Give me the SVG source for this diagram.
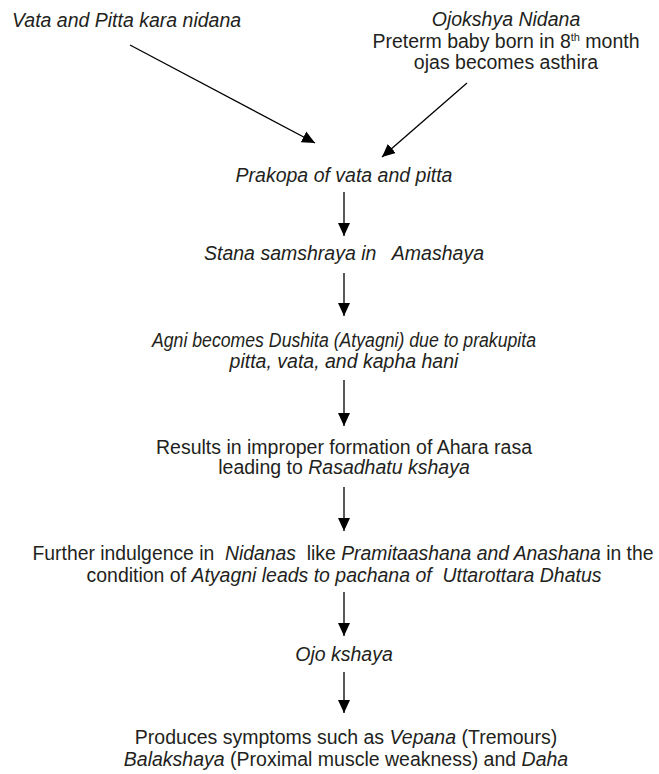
<svg xmlns="http://www.w3.org/2000/svg" width="659" height="774" viewBox="0 0 659 774">
<style>
text{font-family:"Liberation Sans",Arial,sans-serif;font-size:19.5px;fill:#231f20}
.c{text-anchor:middle}
.i{font-style:italic}
.e{stroke:#000;stroke-width:1.3;fill:none;marker-end:url(#ah)}
</style>
<defs>
<marker id="ah" markerUnits="userSpaceOnUse" markerWidth="14" markerHeight="14" refX="13" refY="6" orient="auto" viewBox="0 0 14 12">
<path d="M0,0 L13,6 L0,12 Z" fill="#000"/>
</marker>
</defs>
<rect width="659" height="774" fill="#fff"/>
<g id="connectors">
<line class="e" x1="130" y1="45" x2="315" y2="143"/>
<line class="e" x1="467" y1="83" x2="382" y2="157"/>
<line class="e" x1="344" y1="192" x2="344" y2="236"/>
<line class="e" x1="344" y1="273" x2="344" y2="316"/>
<line class="e" x1="344" y1="380" x2="344" y2="426"/>
<line class="e" x1="344" y1="487" x2="344" y2="531"/>
<line class="e" x1="344" y1="592" x2="344" y2="636"/>
<line class="e" x1="344" y1="672" x2="344" y2="713"/>
</g>
<g id="n1"><text class="i" x="12" y="27">Vata and Pitta kara nidana</text></g>
<g id="n2">
<text class="c i" x="506" y="26">Ojokshya Nidana</text>
<text class="c" x="506" y="48">Preterm baby born in 8<tspan font-size="11" dy="-7">th</tspan><tspan dy="7"> month</tspan></text>
<text class="c" x="506" y="69">ojas becomes asthira</text>
</g>
<g id="n3"><text class="c i" x="344" y="182">Prakopa of vata and pitta</text></g>
<g id="n4"><text class="c i" x="344" y="260" xml:space="preserve">Stana samshraya in   Amashaya</text></g>
<g id="n5">
<text class="c i" x="344" y="347" textLength="384" lengthAdjust="spacingAndGlyphs">Agni becomes Dushita (Atyagni) due to prakupita</text>
<text class="c i" x="344" y="368">pitta, vata, and kapha hani</text>
</g>
<g id="n6">
<text class="c" x="344" y="454">Results in improper formation of Ahara rasa</text>
<text class="c" x="344" y="474">leading to <tspan class="i">Rasadhatu kshaya</tspan></text>
</g>
<g id="n7">
<text class="c" x="343" y="560" xml:space="preserve" textLength="621" lengthAdjust="spacingAndGlyphs">Further indulgence in  <tspan class="i">Nidanas</tspan>  like <tspan class="i">Pramitaashana and Anashana</tspan> in the</text>
<text class="c" x="344" y="582" xml:space="preserve" textLength="515" lengthAdjust="spacingAndGlyphs">condition of <tspan class="i">Atyagni leads to pachana of  Uttarottara Dhatus</tspan></text>
</g>
<g id="n8"><text class="c i" x="344" y="661">Ojo kshaya</text></g>
<g id="n9">
<text class="c" x="346" y="744">Produces symptoms such as <tspan class="i">Vepana</tspan> (Tremours)</text>
<text class="c" x="346" y="766"><tspan class="i">Balakshaya</tspan> (Proximal muscle weakness) and <tspan class="i">Daha</tspan></text>
</g>
</svg>
